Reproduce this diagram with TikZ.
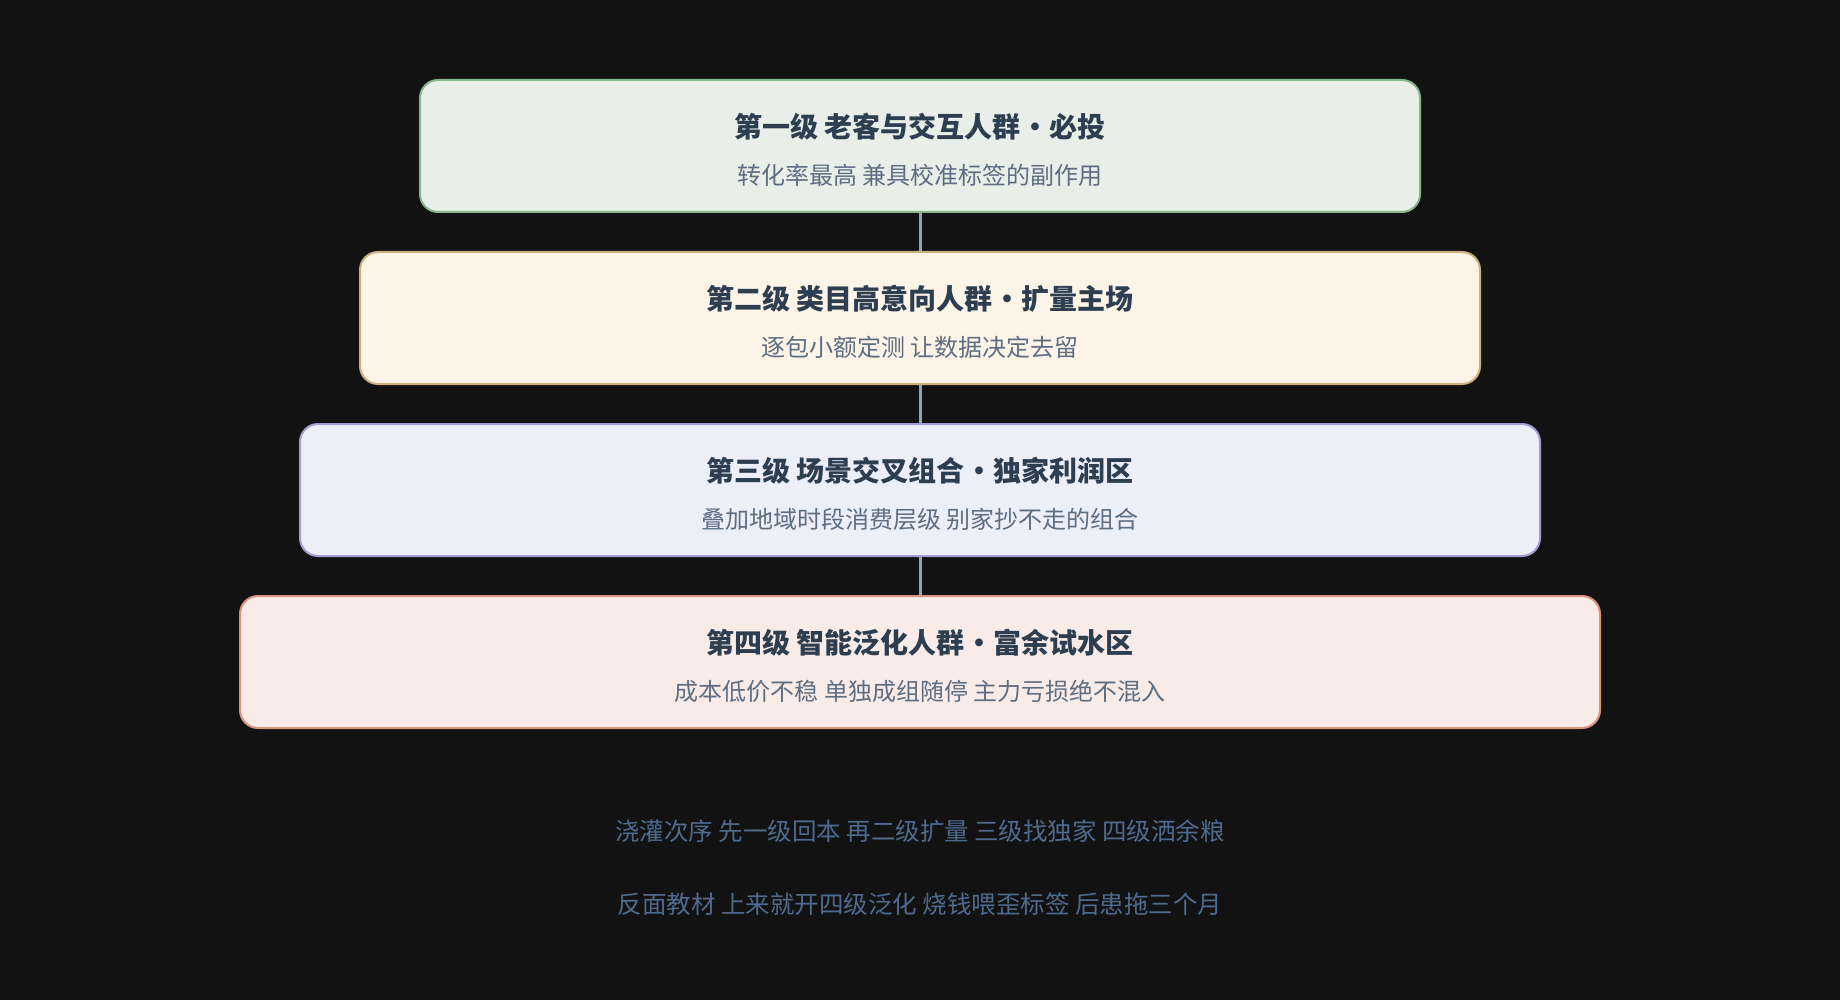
\documentclass[tikz,border=0pt]{standalone}
\usepackage{fontspec}
\setmainfont{Noto Sans CJK SC}
\usepackage{tikz}
\usetikzlibrary{positioning}
\definecolor{bgdark}{HTML}{121212}
\definecolor{ttlcol}{HTML}{2C3E50}
\definecolor{subcol}{HTML}{5E6E82}
\definecolor{notecol}{HTML}{4E6A8E}
\definecolor{linkcol}{HTML}{94A4B8}
\definecolor{grnfill}{HTML}{E8EFE8}
\definecolor{grnline}{HTML}{86B68E}
\definecolor{ylwfill}{HTML}{FDF4E8}
\definecolor{ylwline}{HTML}{CBB07C}
\definecolor{blufill}{HTML}{ECEEF8}
\definecolor{bluline}{HTML}{A59CD2}
\definecolor{redfill}{HTML}{F8EBE8}
\definecolor{redline}{HTML}{DA927F}
\newcommand{\dotsep}{\hspace{0.5pt}•\hspace{0.5pt}}
\tikzset{
    tier/.style={rectangle,draw,rounded corners=18pt,line width=2pt,minimum height=132pt,inner sep=0pt},
    tiertitle/.style={node font=\bfseries\fontsize{28}{34}\selectfont,text=ttlcol,inner sep=0pt},
    tiersub/.style={node font=\fontsize{24}{30}\selectfont,text=subcol,inner sep=0pt},
    note/.style={node font=\fontsize{24.5}{30}\selectfont,text=notecol,inner sep=0pt},
    link/.style={draw=linkcol,line width=3pt},
}

\begin{document}
\begin{tikzpicture}[x=1pt,y=-1pt]
    \useasboundingbox [fill=bgdark] (0,0) rectangle (1840,1000);

    \node [tier,draw=grnline,fill=grnfill,minimum width=1000pt] (t1) at (920,146) {};
    \node [tiertitle] (t1h) at ([yshift=19pt]t1.center) {第一级 老客与交互人群\dotsep 必投};
    \node [tiersub] (t1s) at ([yshift=-29pt]t1.center) {转化率最高 兼具校准标签的副作用};

    \node [tier,draw=ylwline,fill=ylwfill,minimum width=1120pt] (t2) at (920,318) {};
    \node [tiertitle] (t2h) at ([yshift=19pt]t2.center) {第二级 类目高意向人群\dotsep 扩量主场};
    \node [tiersub] (t2s) at ([yshift=-29pt]t2.center) {逐包小额定测 让数据决定去留};

    \node [tier,draw=bluline,fill=blufill,minimum width=1240pt] (t3) at (920,490) {};
    \node [tiertitle] (t3h) at ([yshift=19pt]t3.center) {第三级 场景交叉组合\dotsep 独家利润区};
    \node [tiersub] (t3s) at ([yshift=-29pt]t3.center) {叠加地域时段消费层级 别家抄不走的组合};

    \node [tier,draw=redline,fill=redfill,minimum width=1360pt] (t4) at (920,662) {};
    \node [tiertitle] (t4h) at ([yshift=19pt]t4.center) {第四级 智能泛化人群\dotsep 富余试水区};
    \node [tiersub] (t4s) at ([yshift=-29pt]t4.center) {成本低价不稳 单独成组随停 主力亏损绝不混入};

    \path [link] (t1) -- (t2);
    \path [link] (t2) -- (t3);
    \path [link] (t3) -- (t4);

    \node [note] (n1) at (920,831) {浇灌次序 先一级回本 再二级扩量 三级找独家 四级洒余粮};
    \node [note] (n2) at (920,904) {反面教材 上来就开四级泛化 烧钱喂歪标签 后患拖三个月};
\end{tikzpicture}
\end{document}
